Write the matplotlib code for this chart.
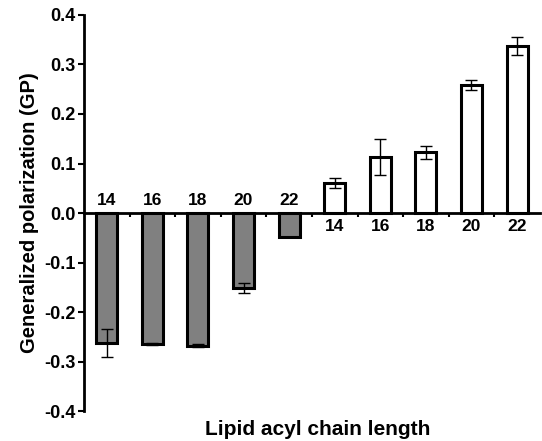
import numpy as np
import matplotlib
matplotlib.use('Agg')
import matplotlib.pyplot as plt
from matplotlib.ticker import FuncFormatter

plt.rcParams['font.family'] = ['Liberation Sans', 'DejaVu Sans']
plt.rcParams['font.weight'] = 'bold'

# chain lengths for the two groups
gray_labels = ['14', '16', '18', '20', '22']
gray_values = [-0.263, -0.265, -0.268, -0.152, -0.048]
gray_errors = [0.028, 0.002, 0.003, 0.010, 0.0]

white_labels = ['14', '16', '18', '20', '22']
white_values = [0.061, 0.113, 0.123, 0.259, 0.338]
white_errors = [0.010, 0.036, 0.013, 0.010, 0.018]

fig = plt.figure(figsize=(5.42, 4.41), dpi=100)
ax = fig.add_axes([0.155, 0.068, 0.841, 0.898])

xg = np.arange(len(gray_values))
xw = np.arange(len(white_values)) + len(gray_values)

ax.bar(xg, gray_values, width=0.46, color='#808080', edgecolor='black', linewidth=2.2, zorder=2)
ax.bar(xw, white_values, width=0.46, color='white', edgecolor='black', linewidth=2.2, zorder=2)
ax.errorbar(xg, gray_values, yerr=gray_errors, fmt='none', ecolor='black',
            elinewidth=1, capsize=4.5, capthick=1, zorder=3)
ax.errorbar(xw, white_values, yerr=white_errors, fmt='none', ecolor='black',
            elinewidth=1, capsize=4.5, capthick=1, zorder=3)

# chain length labels next to the zero line
for x, lab in zip(xg, gray_labels):
    ax.text(x, 0.011, lab, ha='center', va='bottom', fontsize=12.5, fontweight='bold')
for x, lab in zip(xw, white_labels):
    ax.text(x, -0.012, lab, ha='center', va='top', fontsize=12.5, fontweight='bold')

ax.set_xlim(-0.5, 9.5)
ax.set_ylim(-0.4, 0.4)
ax.set_yticks(np.arange(-0.4, 0.41, 0.1))
ax.yaxis.set_major_formatter(FuncFormatter(lambda v, p: '%.1f' % v if abs(v) > 1e-9 else '0.0'))
ax.set_xticks(np.arange(0.5, 9.0, 1.0))
ax.set_xticklabels([])

ax.spines['top'].set_visible(False)
ax.spines['right'].set_visible(False)
ax.spines['bottom'].set_position(('data', 0))
ax.spines['bottom'].set_linewidth(2)
ax.spines['left'].set_linewidth(2)
ax.spines['bottom'].set_zorder(1)
ax.tick_params(axis='y', direction='out', length=4, width=1.5, labelsize=13, pad=2)
ax.tick_params(axis='x', direction='out', length=3, width=1.5)
for t in ax.get_yticklabels():
    t.set_fontweight('bold')

ax.set_ylabel('Generalized polarization (GP)', fontsize=14.5, fontweight='bold', labelpad=4)
fig.text(0.587, 0.005, 'Lipid acyl chain length', ha='center', va='bottom',
         fontsize=15, fontweight='bold')

fig.savefig('out.png', dpi=100)
